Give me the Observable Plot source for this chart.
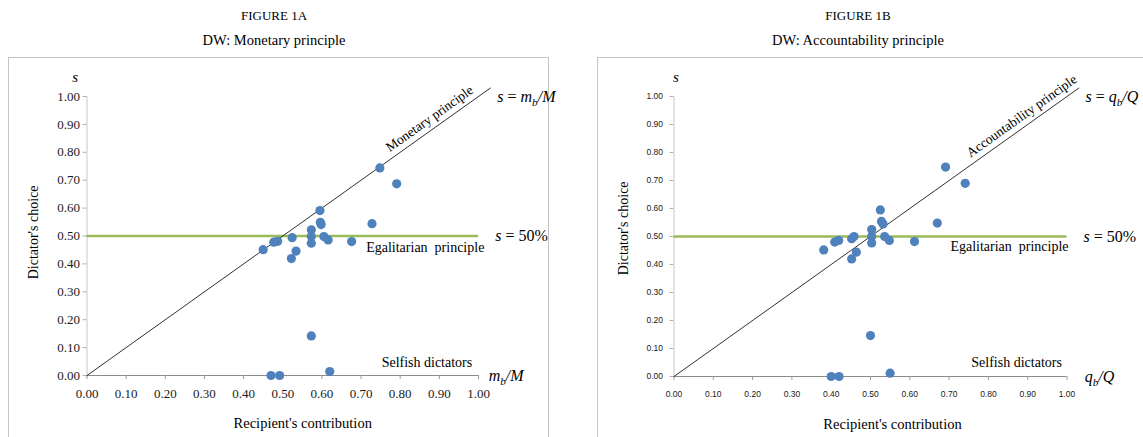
<!DOCTYPE html>
<html>
<head>
<meta charset="utf-8">
<script src="https://cdn.jsdelivr.net/npm/d3@7"></script>
<script src="https://cdn.jsdelivr.net/npm/@observablehq/plot@0.6"></script>
<style>
  body { margin: 0; background: #fff; }
  #page { position: relative; width: 1143px; height: 437px; overflow: hidden; font-family: "Liberation Serif", serif; color: #000; background: #fff; }
  .title { position: absolute; white-space: nowrap; transform: translate(-50%, -50%); line-height: 1; }
  .box { position: absolute; border: 1px solid #c4c4c4; box-sizing: border-box; }
  .chart { position: absolute; }
</style>
</head>
<body>
<div id="page">
  <div class="title" style="left:274px; top:15px; font-size:13px;">FIGURE 1A</div>
  <div class="title" style="left:274px; top:40px; font-size:14.5px;">DW: Monetary principle</div>
  <div class="title" style="left:858px; top:15px; font-size:13px;">FIGURE 1B</div>
  <div class="title" style="left:858px; top:40px; font-size:14.5px;">DW: Accountability principle</div>
  <div class="box" style="left:8px; top:57px; width:541px; height:420px;"></div>
  <div class="box" style="left:597px; top:57px; width:600px; height:420px;"></div>
  <div class="chart" id="chartA" style="left:9px; top:58px;"></div>
  <div class="chart" id="chartB" style="left:598px; top:58px;"></div>
</div>
<script>
// ---- Data ----
const xTicks = [0, 0.1, 0.2, 0.3, 0.4, 0.5, 0.6, 0.7, 0.8, 0.9, 1.0];
const yTicks = [0, 0.1, 0.2, 0.3, 0.4, 0.5, 0.6, 0.7, 0.8, 0.9, 1.0];

// Figure 1A: recipient's monetary contribution share (m_b/M) vs dictator's choice (s)
const monetaryX = [0.748, 0.791, 0.595, 0.596, 0.598, 0.728, 0.573, 0.524, 0.573, 0.605, 0.616, 0.573, 0.676, 0.477, 0.487, 0.450, 0.534, 0.522, 0.573, 0.470, 0.492, 0.620];
const monetaryY = [0.744, 0.687, 0.591, 0.549, 0.541, 0.544, 0.522, 0.494, 0.498, 0.498, 0.486, 0.474, 0.480, 0.478, 0.481, 0.451, 0.446, 0.419, 0.142, 0.000, 0.000, 0.014];

// Figure 1B: recipient's accountable contribution share (q_b/Q) vs dictator's choice (s)
const accountX = [0.691, 0.741, 0.525, 0.528, 0.532, 0.670, 0.503, 0.458, 0.452, 0.503, 0.536, 0.548, 0.503, 0.612, 0.409, 0.419, 0.381, 0.464, 0.452, 0.500, 0.400, 0.420, 0.550];
const accountY = [0.748, 0.690, 0.595, 0.554, 0.545, 0.548, 0.525, 0.500, 0.492, 0.500, 0.500, 0.486, 0.477, 0.482, 0.480, 0.486, 0.452, 0.444, 0.420, 0.146, 0.000, 0.000, 0.012];

// Reference lines: principle line s = share (45°) and egalitarian s = 50%
const principleX = [0, 1.03];
const principleY = [0, 1.03];
const egalitarianShare = [0.5];

// Math labels: parts [text, style]
const formulas = {
  "s = m_b/M": [["s", "i"], [" = ", ""], ["m", "i"], ["b", "sub"], ["/", "i"], ["M", "i"]],
  "m_b/M": [["m", "i"], ["b", "sub"], ["/", "i"], ["M", "i"]],
  "s = q_b/Q": [["s", "i"], [" = ", ""], ["q", "i"], ["b", "sub"], ["/", "i"], ["Q", "i"]],
  "q_b/Q": [["q", "i"], ["b", "sub"], ["/", "i"], ["Q", "i"]],
  "s = 50%": [["s", "i"], [" = 50%", ""]]
};

const SERIF = "Liberation Serif, serif";
const fmt = d3.format(".2f");

function applyFormulas(svg) {
  d3.select(svg).selectAll("text").each(function () {
    const parts = formulas[this.textContent];
    if (!parts) return;
    const el = d3.select(this);
    const fs = parseFloat(el.attr("font-size")) || 16;
    el.text(null);
    let shifted = false;
    for (const [t, s] of parts) {
      const ts = el.append("tspan").text(t);
      if (s === "i" || s === "sub") ts.attr("font-style", "italic");
      if (s === "sub") {
        ts.attr("font-size", fs * 0.7).attr("dy", fs * 0.25);
        shifted = true;
      } else if (shifted) {
        ts.attr("dy", -fs * 0.25);
        shifted = false;
      }
    }
  });
}

function buildPanel(cfg) {
  const pts = cfg.xs.map((x, i) => ({x, y: cfg.ys[i]}));
  const diag = principleX.map((x, i) => ({x, y: principleY[i]}));
  const angle = -Math.atan2(cfg.plotH, cfg.plotW) * 180 / Math.PI;
  const mid = cfg.principleAt;
  const svg = Plot.plot({
    width: cfg.width,
    height: cfg.height,
    marginLeft: cfg.ml,
    marginRight: cfg.width - cfg.ml - cfg.plotW,
    marginTop: cfg.mt,
    marginBottom: cfg.height - cfg.mt - cfg.plotH,
    x: {domain: [0, 1]},
    y: {domain: [0, 1]},
    style: {fontFamily: SERIF, fontSize: "14px", overflow: "visible", background: "transparent", color: "#000"},
    marks: [
      Plot.ruleX([0], {stroke: "#c8c8c8", strokeWidth: 1}),
      Plot.ruleY([0], {stroke: "#8c8c8c", strokeWidth: 1}),
      Plot.axisX({ticks: xTicks, tickFormat: fmt, tickSize: 4, tickPadding: cfg.xPad, fontSize: cfg.tickFontSize, fontFamily: cfg.tickFont, stroke: "#9a9a9a", fill: "#1a1a1a", label: null}),
      Plot.axisY({ticks: yTicks, tickFormat: fmt, tickSize: 4, tickPadding: cfg.yPad, fontSize: cfg.tickFontSize, fontFamily: cfg.tickFont, stroke: "#b0b0b0", fill: "#1a1a1a", label: null}),
      Plot.ruleY(egalitarianShare, {stroke: "#9bbb59", strokeWidth: 2.5}),
      Plot.line(diag, {x: "x", y: "y", stroke: "#1a1a1a", strokeWidth: 0.9}),
      Plot.dot(pts, {x: "x", y: "y", r: 4.6, fill: "#4f81bd", stroke: "none"}),
      // annotations
      Plot.text([cfg.principleLabel], {text: d => d, x: mid, y: mid, rotate: angle, textAnchor: "middle", lineAnchor: "bottom", dx: -3.5, dy: -5, fontSize: 13.5, fontFamily: SERIF}),
      Plot.text([cfg.diagFormula], {text: d => d, x: cfg.diagFormulaX, y: 1.0, textAnchor: "start", fontSize: 16, fontFamily: SERIF}),
      Plot.text(["s = 50%"], {text: d => d, x: cfg.halfX, y: 0.5, textAnchor: "start", fontSize: 16, fontFamily: SERIF}),
      Plot.text(["Egalitarian  principle"], {text: d => d, x: cfg.egalX, y: cfg.egalY, textAnchor: "end", fontSize: 14, fontFamily: SERIF}),
      Plot.text(["Selfish dictators"], {text: d => d, x: cfg.selfX, y: cfg.selfY, textAnchor: "end", fontSize: 14, fontFamily: SERIF}),
      Plot.text([cfg.axisFormula], {text: d => d, x: cfg.axisFormulaX, y: 0, textAnchor: "start", fontSize: 16, fontFamily: SERIF}),
      Plot.text(["s"], {text: d => d, x: cfg.sX, y: 1.068, textAnchor: "middle", fontSize: 15, fontStyle: "italic", fontFamily: SERIF}),
      Plot.text(["Recipient's contribution"], {text: d => d, x: cfg.xLabelX, y: cfg.xLabelY, textAnchor: "middle", fontSize: 14.5, fontFamily: SERIF}),
      Plot.text(["Dictator's choice"], {text: d => d, x: cfg.yLabelX, y: cfg.yLabelY, rotate: -90, textAnchor: "middle", fontSize: 14, fontFamily: SERIF})
    ]
  });
  const sel = d3.select(svg);
  sel.selectAll("text").attr("xml:space", "preserve").style("white-space", "pre");
  sel.selectAll("text").filter(function () { return /^\d\.\d\d$/.test(this.textContent); })
    .attr("font-family", cfg.tickFont)
    .style("font-family", cfg.tickFont);
  applyFormulas(svg);
  return svg;
}

document.getElementById("chartA").append(buildPanel({
  xs: monetaryX, ys: monetaryY,
  width: 540, height: 379, ml: 77.5, plotW: 391.5, mt: 38, plotH: 279,
  tickFont: SERIF, tickFontSize: 13, xPad: 9, yPad: 3,
  principleLabel: "Monetary principle", principleAt: 0.89,
  diagFormula: "s = m_b/M", diagFormulaX: 1.048,
  halfX: 1.043, egalX: 1.015, egalY: 0.457, selfX: 0.984, selfY: 0.048,
  axisFormula: "m_b/M", axisFormulaX: 1.026,
  sX: -0.03, xLabelX: 0.551, xLabelY: -0.172, yLabelX: -0.137, yLabelY: 0.513
}));

document.getElementById("chartB").append(buildPanel({
  xs: accountX, ys: accountY,
  width: 545, height: 379, ml: 75.5, plotW: 393, mt: 38, plotH: 280,
  tickFont: "Liberation Sans, sans-serif", tickFontSize: 8.5, xPad: 10, yPad: 7,
  principleLabel: "Accountability principle", principleAt: 0.9,
  diagFormula: "s = q_b/Q", diagFormulaX: 1.047,
  halfX: 1.042, egalX: 1.004, egalY: 0.464, selfX: 0.987, selfY: 0.05,
  axisFormula: "q_b/Q", axisFormulaX: 1.045,
  sX: 0.005, xLabelX: 0.556, xLabelY: -0.171, yLabelX: -0.129, yLabelY: 0.529
}));
</script>
</body>
</html>
